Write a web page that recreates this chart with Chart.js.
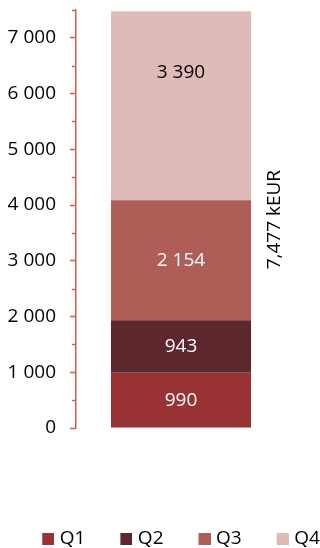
<!DOCTYPE html>
<html>
<head>
<meta charset="utf-8">
<script src="https://cdn.jsdelivr.net/npm/chart.js@4/dist/chart.umd.min.js"></script>
<style>
  html, body { margin: 0; padding: 0; background: #ffffff; }
  #wrap { width: 320px; height: 548px; position: relative; }
</style>
</head>
<body>
<div id="wrap"><canvas id="chart"></canvas></div>
<script>
// Quarterly revenue, kEUR, stacked in one column
const categories = ['2023'];
const seriesNames = ['Q1', 'Q2', 'Q3', 'Q4'];
const q1 = [990];
const q2 = [943];
const q3 = [2154];
const q4 = [3390];
const seriesValues = [q1, q2, q3, q4];
const seriesColors = ['#983234', '#5E272E', '#AE5E57', '#DEBAB8'];
const labelColors = ['#ffffff', '#ffffff', '#ffffff', '#000000'];
const yMax = 7500;
const yLabelMax = 7000;
const yMajorStep = 1000;
const yMinorStep = 500;
const unit = 'kEUR';

const FONT = '"Open Sans", "Liberation Sans", sans-serif';
const FONT_SIZE = 19;
const AXIS_COLOR = '#C8624A';

const spaced = v => String(Math.round(v)).replace(/\B(?=(\d{3})+(?!\d))/g, ' ');
const commaed = v => String(Math.round(v)).replace(/\B(?=(\d{3})+(?!\d))/g, ',');

// legend swatch: a 12px square sitting at the right end of a wider transparent strip
const SWATCH_W = 38;
function swatch(color) {
  const c = document.createElement('canvas');
  c.width = SWATCH_W + 8;
  c.height = 12;
  const g = c.getContext('2d');
  g.fillStyle = color;
  g.fillRect(c.width - 12, 0, 12, 12);
  return c;
}
const swatches = seriesColors.map(swatch);

// short minor tick marks between the labelled ones
const minorTicks = {
  id: 'minorTicks',
  afterDraw(chart) {
    const y = chart.scales.y;
    const ctx = chart.ctx;
    const x0 = y.right;
    ctx.save();
    ctx.strokeStyle = AXIS_COLOR;
    ctx.lineWidth = 1.5;
    for (let v = yMinorStep; v <= yMax; v += yMajorStep) {
      const py = Math.round(y.getPixelForValue(v)) + 0.5;
      ctx.beginPath();
      ctx.moveTo(x0 - 4, py);
      ctx.lineTo(x0, py);
      ctx.stroke();
    }
    ctx.restore();
  }
};

// segment values inside the column and the column total beside it
const valueLabels = {
  id: 'valueLabels',
  afterDatasetsDraw(chart) {
    const ctx = chart.ctx;
    ctx.save();
    ctx.font = FONT_SIZE + 'px ' + FONT;
    ctx.textAlign = 'center';
    ctx.textBaseline = 'middle';
    const last = chart.data.datasets.length - 1;
    chart.data.datasets.forEach((ds, i) => {
      const meta = chart.getDatasetMeta(i);
      meta.data.forEach((bar, j) => {
        const top = Math.min(bar.y, bar.base);
        const bottom = Math.max(bar.y, bar.base);
        const cy = i === last ? top + 61 : (top + bottom) / 2;
        ctx.fillStyle = labelColors[i];
        ctx.fillText(spaced(ds.data[j]), bar.x, cy);
      });
    });
    // total, written upward to the right of the column
    const yScale = chart.scales.y;
    const meta0 = chart.getDatasetMeta(0);
    meta0.data.forEach((bar, j) => {
      const total = seriesValues.reduce((s, arr) => s + arr[j], 0);
      const cx = bar.x + bar.width / 2 + 24;
      const cy = yScale.getPixelForValue(total / 2);
      ctx.save();
      ctx.translate(cx, cy);
      ctx.rotate(-Math.PI / 2);
      ctx.fillStyle = '#000000';
      ctx.fillText(commaed(total) + ' ' + unit, 0, 0);
      ctx.restore();
    });
    ctx.restore();
  }
};

// move the legend row a little right and down, towards the bottom edge
const legendShift = {
  id: 'legendShift',
  afterLayout(chart) {
    const lg = chart.legend;
    if (lg) {
      lg.left += 6;
      lg.right += 6;
      lg.top += 10;
      lg.bottom += 10;
    }
  }
};

new Chart(document.getElementById('chart'), {
  type: 'bar',
  data: {
    labels: categories,
    datasets: seriesNames.map((name, i) => ({
      label: name,
      data: seriesValues[i],
      backgroundColor: seriesColors[i],
      borderWidth: 0,
      categoryPercentage: 1,
      barPercentage: 0.667
    }))
  },
  options: {
    responsive: true,
    maintainAspectRatio: false,
    animation: false,
    events: [],
    layout: { padding: 0 },
    font: { family: FONT, size: FONT_SIZE },
    plugins: {
      tooltip: { enabled: false },
      legend: {
        position: 'bottom',
        align: 'center',
        labels: {
          color: '#000000',
          font: { family: FONT, size: FONT_SIZE },
          usePointStyle: true,
          pointStyleWidth: SWATCH_W,
          boxHeight: 12,
          padding: 5,
          generateLabels(chart) {
            return chart.data.datasets.map((ds, i) => ({
              text: ds.label,
              fillStyle: seriesColors[i],
              strokeStyle: seriesColors[i],
              lineWidth: 0,
              pointStyle: swatches[i],
              fontColor: '#000000',
              datasetIndex: i,
              hidden: false
            }));
          }
        }
      }
    },
    scales: {
      x: {
        stacked: true,
        display: true,
        grid: { display: false },
        border: { display: false },
        ticks: { display: false },
        afterFit(scale) { scale.height = 86; }
      },
      y: {
        stacked: true,
        min: 0,
        max: yMax,
        afterBuildTicks(scale) {
          const t = [];
          for (let v = 0; v <= yLabelMax; v += yMajorStep) t.push({ value: v });
          scale.ticks = t;
        },
        afterFit(scale) {
          scale.width = 76;
          scale.paddingTop = 10;
          scale.paddingBottom = 0;
        },
        border: { display: true, color: AXIS_COLOR, width: 1.5 },
        grid: {
          drawOnChartArea: false,
          drawTicks: true,
          tickLength: 6,
          tickColor: AXIS_COLOR,
          tickWidth: 1.5
        },
        ticks: {
          padding: 14,
          color: '#000000',
          font: { family: FONT, size: FONT_SIZE },
          callback: v => spaced(v)
        }
      },
      // empty strip on the right that leaves room for the total
      side: {
        position: 'right',
        display: true,
        grid: { display: false },
        border: { display: false },
        ticks: { display: false },
        afterFit(scale) { scale.width = 34; }
      }
    }
  },
  plugins: [minorTicks, valueLabels, legendShift]
});
</script>
</body>
</html>
